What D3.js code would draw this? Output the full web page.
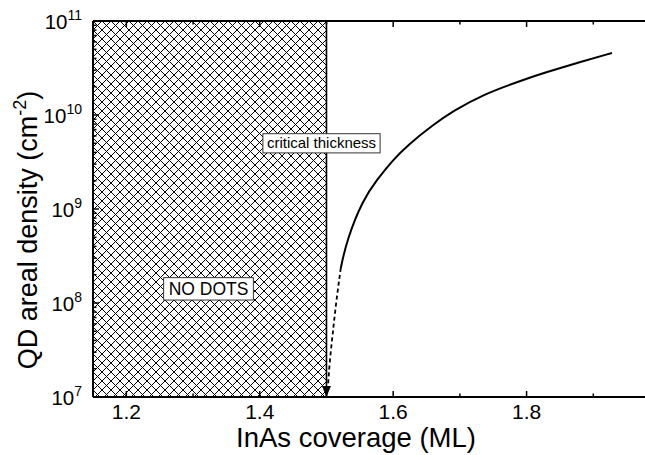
<!DOCTYPE html>
<html>
<head>
<meta charset="utf-8">
<script src="https://cdn.jsdelivr.net/npm/d3@7/dist/d3.min.js"></script>
<style>
  body{margin:0;background:#fff;}
  svg{display:block;font-family:"Liberation Sans",Arial,sans-serif;}
</style>
</head>
<body>
<div class="container"></div>
<script>
// solid part of the density curve (coverage ML, density cm^-2)
const solidX=[1.5215,1.5305,1.5545,1.5755,1.5995,1.622,1.6595,1.6895,1.7345,1.790,1.8245,1.8755,1.928];
const solidY=[2.36e8,4.68e8,1.25e9,2.04e9,3.32e9,4.80e9,7.83e9,1.10e10,1.65e10,2.30e10,2.78e10,3.59e10,4.57e10];
// dashed extrapolation down to the critical thickness
const dashX=[1.5215,1.520,1.514,1.5095,1.505,1.502,1.500];
const dashY=[2.36e8,1.99e8,9.5e7,4.8e7,2.48e7,1.25e7,1.0e7];

const criticalX=1.5;
const xTicks=[1.2,1.4,1.6,1.8];
const xMinor=[1.3,1.5,1.7,1.9];
const yTicks=[1e7,1e8,1e9,1e10,1e11];
const yExp=[7,8,9,10,11];

const W=645,H=455;
const margin={left:93,top:21,bottom:58};
const plotRight=660;

const svg=d3.select('.container').append('svg')
  .attr('width',W).attr('height',H);

const x=d3.scaleLinear().domain([1.15,2.0]).range([margin.left,plotRight]);
const y=d3.scaleLog().domain([1e7,1e11]).range([H-margin.bottom,margin.top]);

const defs=svg.append('defs');
const pat=defs.append('pattern')
  .attr('id','hatch').attr('patternUnits','userSpaceOnUse')
  .attr('width',9).attr('height',9)
  .attr('x',x(1.15)).attr('y',y(1e11));
pat.append('path')
  .attr('d','M0,0L9,9M9,0L0,9')
  .attr('stroke','#000').attr('stroke-width',1).attr('fill','none');

// hatched "no dots" region
svg.append('rect')
  .attr('x',x(1.15)).attr('y',y(1e11))
  .attr('width',x(criticalX)-x(1.15))
  .attr('height',y(1e7)-y(1e11))
  .attr('fill','url(#hatch)');

// critical thickness line
svg.append('line')
  .attr('x1',x(criticalX)).attr('x2',x(criticalX))
  .attr('y1',y(1e11)).attr('y2',y(1e7))
  .attr('stroke','#000').attr('stroke-width',1.6);

const smooth=d3.line()
  .x(d=>x(d[0])).y(d=>y(d[1]))
  .curve(d3.curveBasis);

svg.append('path')
  .datum(solidX.map((v,i)=>[v,solidY[i]]))
  .attr('d',smooth)
  .attr('fill','none').attr('stroke','#000').attr('stroke-width',2);

const dashPts=dashX.map((v,i)=>[v,dashY[i]]);
svg.append('path')
  .datum(dashPts.slice(0,-1))
  .attr('d',smooth)
  .attr('fill','none').attr('stroke','#000').attr('stroke-width',1.8)
  .attr('stroke-dasharray','4,3');

// arrow head at the critical thickness
const tipX=x(dashX[dashX.length-1]),tipY=y(dashY[dashY.length-1]);
svg.append('path')
  .attr('d',`M${tipX},${tipY}L${tipX-4.5},${tipY-11}L${tipX+4.5},${tipY-11}Z`)
  .attr('fill','#000');

// axes frame (right side falls off the canvas)
const axisG=svg.append('g').attr('stroke','#000').attr('stroke-width',2);
axisG.append('line').attr('x1',x(1.15)).attr('x2',plotRight).attr('y1',y(1e7)).attr('y2',y(1e7));
axisG.append('line').attr('x1',x(1.15)).attr('x2',plotRight).attr('y1',y(1e11)).attr('y2',y(1e11));
axisG.append('line').attr('x1',x(1.15)).attr('x2',x(1.15)).attr('y1',y(1e7)).attr('y2',y(1e11));
axisG.append('line').attr('x1',plotRight).attr('x2',plotRight).attr('y1',y(1e7)).attr('y2',y(1e11));

// x ticks (inward, bottom and top)
const tickG=svg.append('g').attr('stroke','#000').attr('stroke-width',1.5);
xTicks.forEach(t=>{
  tickG.append('line').attr('x1',x(t)).attr('x2',x(t)).attr('y1',y(1e7)).attr('y2',y(1e7)-6);
  tickG.append('line').attr('x1',x(t)).attr('x2',x(t)).attr('y1',y(1e11)).attr('y2',y(1e11)+6);
});
xMinor.forEach(t=>{
  tickG.append('line').attr('x1',x(t)).attr('x2',x(t)).attr('y1',y(1e7)).attr('y2',y(1e7)-3.5);
  tickG.append('line').attr('x1',x(t)).attr('x2',x(t)).attr('y1',y(1e11)).attr('y2',y(1e11)+3.5);
});
// y ticks (log, inward)
yTicks.forEach((t,i)=>{
  tickG.append('line').attr('x1',x(1.15)).attr('x2',x(1.15)+6).attr('y1',y(t)).attr('y2',y(t));
  if(i<yTicks.length-1){
    for(let k=2;k<10;k++){
      tickG.append('line').attr('x1',x(1.15)).attr('x2',x(1.15)+3.5)
        .attr('y1',y(t*k)).attr('y2',y(t*k));
    }
  }
});

// tick labels
svg.append('g').selectAll('text').data(xTicks).join('text')
  .attr('x',d=>x(d)).attr('y',y(1e7)+22)
  .attr('text-anchor','middle').attr('font-size',21)
  .text(d=>d.toFixed(1));

const yl=svg.append('g').selectAll('text').data(yTicks).join('text')
  .attr('x',x(1.15)-11).attr('y',d=>y(d)+8)
  .attr('text-anchor','end').attr('font-size',20.5);
yl.append('tspan').text('10');
yl.append('tspan').attr('dy',-9).attr('font-size',14).text((d,i)=>yExp[i]);

// axis labels
svg.append('text')
  .attr('x',356).attr('y',H-8)
  .attr('text-anchor','middle').attr('font-size',27.5)
  .text('InAs coverage (ML)');

const ylab=svg.append('text')
  .attr('transform',`translate(37,230)rotate(-90)`)
  .attr('text-anchor','middle').attr('font-size',27);
ylab.append('tspan').text('QD areal density (cm');
ylab.append('tspan').attr('dy',-11).attr('font-size',18).text('-2');
ylab.append('tspan').attr('dy',11).text(')');

// annotation boxes
function box(cx,cy,label,size,pad){
  const g=svg.append('g');
  const t=g.append('text').attr('x',cx).attr('y',cy+size*0.36)
    .attr('text-anchor','middle').attr('font-size',size).text(label);
  const bb=t.node().getBBox();
  g.insert('rect','text')
    .attr('x',bb.x-pad).attr('y',cy-size*0.62)
    .attr('width',bb.width+2*pad).attr('height',size*1.28)
    .attr('fill','#fff').attr('stroke','#333').attr('stroke-width',1);
}
box(321.5,143,'critical thickness',15,4);
box(208.5,288.5,'NO DOTS',17.5,5);
</script>
</body>
</html>
